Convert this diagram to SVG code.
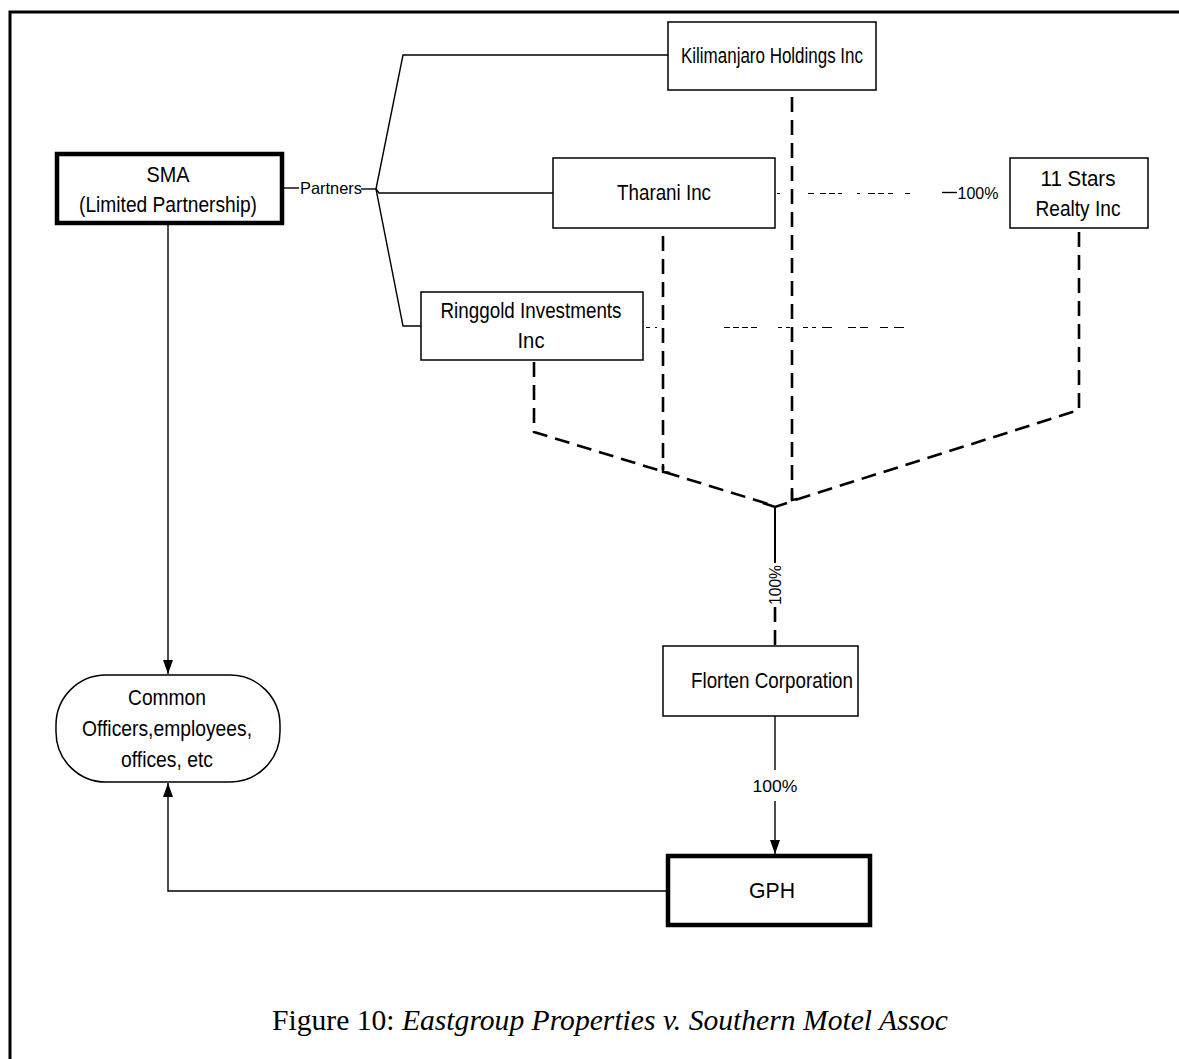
<svg xmlns="http://www.w3.org/2000/svg" width="1179" height="1059" viewBox="0 0 1179 1059">
<style>
.box{fill:#fff;stroke:#000;stroke-width:1.5}
.thick{stroke-width:4.5}
.t{font-family:"Liberation Sans",Arial,sans-serif;font-size:21.5px;fill:#000;text-anchor:middle}
.s{font-family:"Liberation Sans",Arial,sans-serif;font-size:16.5px;fill:#000;text-anchor:middle}
.ln{fill:none;stroke:#000;stroke-width:1.4}
.dash{fill:none;stroke:#000;stroke-width:2.6;stroke-dasharray:15 8}
.dot{fill:none;stroke:#000;stroke-width:1.2}
.cap{font-family:"Liberation Serif","Times New Roman",serif;font-size:29px;fill:#000;text-anchor:middle}
</style>
<defs>
<marker id="arrB" viewBox="0 0 14 10" refX="14" refY="5" markerWidth="14" markerHeight="10" markerUnits="userSpaceOnUse" orient="auto">
<path d="M0,0 L14,5 L0,10 Z" fill="#000"/>
</marker>
</defs>
<rect width="1179" height="1059" fill="#fff"/>
<rect x="10" y="12" width="1180" height="1070" fill="none" stroke="#000" stroke-width="3"/>

<g id="connectors">
  <path class="ln" d="M283 188 H299"/>
  <path class="ln" d="M361 189 H376"/>
  <path class="ln" d="M376 189 L403 55 H668"/>
  <path class="ln" d="M376 189 L379 193 H553"/>
  <path class="ln" d="M376 189 L403 326 H421"/>
  <path class="ln" d="M168 225 V674" marker-end="url(#arrB)"/>
  <path class="ln" d="M668 891 H168 V783" marker-end="url(#arrB)"/>
  <path class="ln" d="M775 716 V770"/>
  <path class="ln" d="M775 801 V854" marker-end="url(#arrB)"/>
  <path class="ln" d="M775 507 V563" style="stroke-width:2"/>
  <path class="dash" d="M775 607 V646"/>
  <path class="dash" d="M534 362 V432 L775 506"/>
  <path class="dash" d="M1079 232 V410 L795 500"/>
  <path class="dash" d="M792 97 V500"/>
  <path class="ln" d="M792 490 V500 L797 499" style="stroke-width:2.4"/>
  <path class="ln" d="M763 503 L775 507 L787 503" style="stroke-width:2.4"/>
  <path class="dash" d="M663 236 V470"/>
  <path class="ln" d="M663 464 V472 L670 473" style="stroke-width:2.4"/>
  <path class="dot" d="M777 193.5 H780 M808 193.5 H814 M820 193.5 H826 M829 193.5 H835 M838 193.5 H842 M857 193.5 H860 M868 193.5 H875 M878 193.5 H884 M888 193.5 H893 M905 193.5 H910" />
  <path class="dot" d="M942 192.5 H957" style="stroke-width:1.4"/>
  <path class="dot" d="M646 327.5 H650 M655 327.5 H657 M724 327.5 H730 M733 327.5 H739 M742 327.5 H748 M751 327.5 H757 M778 327.5 H782 M786 327.5 H790 M803 327.5 H808 M812 327.5 H816 M822 327.5 H832 M848 327.5 H856 M860 327.5 H868 M880 327.5 H888 M894 327.5 H904" />
  <text class="s" x="331" y="194" textLength="62" lengthAdjust="spacingAndGlyphs">Partners</text>
  <text class="s" x="978" y="199" textLength="41" lengthAdjust="spacingAndGlyphs">100%</text>
  <text class="s" x="0" y="0" transform="translate(781 585) rotate(-90)" textLength="40" lengthAdjust="spacingAndGlyphs">100%</text>
  <text class="s" x="775" y="792" textLength="45" lengthAdjust="spacingAndGlyphs">100%</text>
</g>

<g id="sma">
  <rect class="box thick" x="57" y="154" width="225" height="69"/>
  <text class="t" x="168" y="182" textLength="43" lengthAdjust="spacingAndGlyphs">SMA</text>
  <text class="t" x="168" y="212" textLength="178" lengthAdjust="spacingAndGlyphs">(Limited Partnership)</text>
</g>
<g id="kilimanjaro">
  <rect class="box" x="668" y="22" width="208" height="68"/>
  <text class="t" x="772" y="63" textLength="182" lengthAdjust="spacingAndGlyphs">Kilimanjaro Holdings Inc</text>
</g>
<g id="tharani">
  <rect class="box" x="553" y="158" width="222" height="70"/>
  <text class="t" x="664" y="200" textLength="94" lengthAdjust="spacingAndGlyphs">Tharani Inc</text>
</g>
<g id="ringgold">
  <rect class="box" x="421" y="292" width="222" height="68"/>
  <text class="t" x="531" y="318" textLength="181" lengthAdjust="spacingAndGlyphs">Ringgold Investments</text>
  <text class="t" x="531" y="348" textLength="27" lengthAdjust="spacingAndGlyphs">Inc</text>
</g>
<g id="stars">
  <rect class="box" x="1010" y="158" width="138" height="70"/>
  <text class="t" x="1078" y="186" textLength="75" lengthAdjust="spacingAndGlyphs">11 Stars</text>
  <text class="t" x="1078" y="216" textLength="85" lengthAdjust="spacingAndGlyphs">Realty Inc</text>
</g>
<g id="florten">
  <rect class="box" x="663" y="646" width="195" height="70"/>
  <text class="t" x="772" y="688" textLength="162" lengthAdjust="spacingAndGlyphs">Florten Corporation</text>
</g>
<g id="gph">
  <rect class="box thick" x="668" y="856" width="202" height="69"/>
  <text class="t" x="772" y="898" textLength="46" lengthAdjust="spacingAndGlyphs">GPH</text>
</g>
<g id="common">
  <rect class="box" x="56" y="675" width="224" height="107" rx="50" ry="50"/>
  <text class="t" x="167" y="705" textLength="78" lengthAdjust="spacingAndGlyphs">Common</text>
  <text class="t" x="167" y="736" textLength="170" lengthAdjust="spacingAndGlyphs">Officers,employees,</text>
  <text class="t" x="167" y="767" textLength="92" lengthAdjust="spacingAndGlyphs">offices, etc</text>
</g>
<text class="cap" x="610" y="1030" textLength="676" lengthAdjust="spacingAndGlyphs">Figure 10: <tspan font-style="italic">Eastgroup Properties v. Southern Motel Assoc</tspan></text>
</svg>
